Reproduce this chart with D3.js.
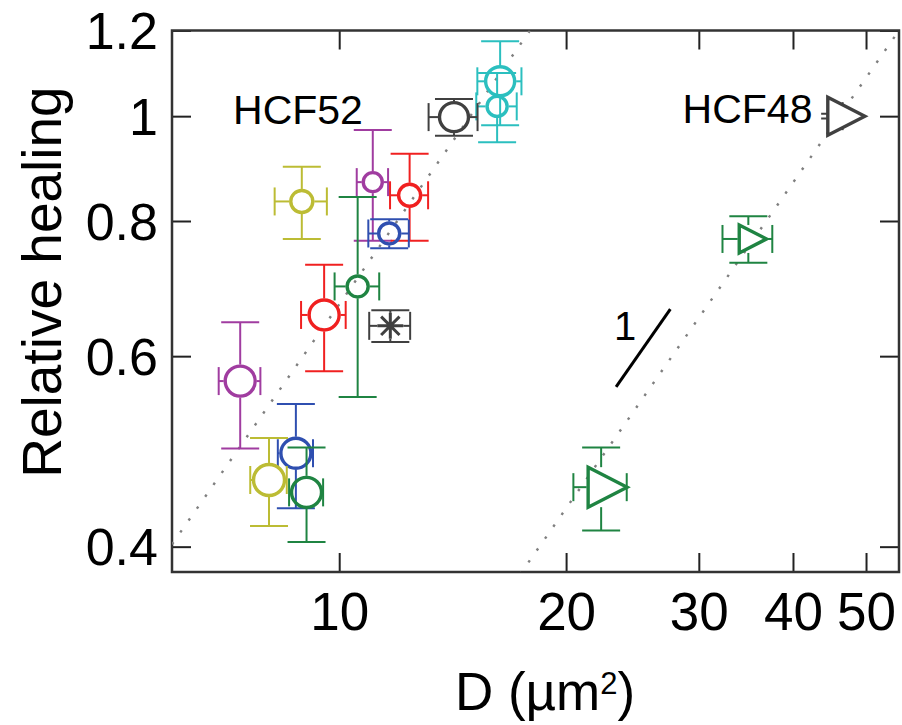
<!DOCTYPE html>
<html><head><meta charset="utf-8">
<script src="https://cdn.jsdelivr.net/npm/d3@7"></script>
<style>
body{margin:0;background:#fff}
svg{display:block}
text{font-family:"Liberation Sans",Arial,Helvetica,sans-serif}
</style>
</head><body>
<svg id="chart" width="902" height="725"></svg>
<script>
// ---------------- data ----------------
// HCF52 samples (open circles): D (µm²) and relative healing, with errors
const hcf52Colors = ["#2bbfbf","#2bbfbf","#404040","#a03ca0","#f02020","#bcbc34","#2f4fb0","#1f8442","#f02020","#a03ca0","#2f4fb0","#bcbc34","#1f8442"];
const hcf52D      = [16.35, 16.2, 14.2, 11.08, 12.4, 8.92, 11.65, 10.58, 9.55, 7.39, 8.76, 8.07, 9.05];
const hcf52DErr   = [1.1, 1.0, 1.06, 0.53, 0.72, 0.71, 0.72, 0.72, 0.65, 0.47, 0.47, 0.45, 0.47];
const hcf52Heal   = [1.077, 1.021, 0.998, 0.869, 0.845, 0.834, 0.779, 0.696, 0.655, 0.569, 0.488, 0.461, 0.449];
const hcf52HealErr= [0.096, 0.075, 0.039, 0.102, 0.078, 0.064, 0.024, 0.146, 0.074, 0.076, 0.054, 0.043, 0.045];
const hcf52Size   = [14.5, 10, 14.5, 9.5, 11, 11, 10.5, 10.5, 15, 15, 15, 15.5, 15];

// HCF52 reference sample (asterisk)
const refColor = ["#404040"];
const refD = [11.69], refDErr = [0.73];
const refHeal = [0.640], refHealErr = [0.0215];

// HCF48 samples (right-pointing triangles)
const hcf48Colors = ["#404040","#1f8442","#1f8442"];
const hcf48D      = [46.2, 34.9, 22.26];
const hcf48DErr   = [0.35, 2.65, 1.81];
const hcf48Heal   = [1.0, 0.770, 0.454];
const hcf48HealErr= [0.005, 0.038, 0.040];
const hcf48Size   = [19, 14, 20];

// guide lines: healing = coef * D (slope 1 in log-log)
const guideCoef = [0.067, 0.0217];
const slopeSegD = [23.3, 27.5];
const slopeSegHeal = [0.562, 0.6633];

const xTicks = [10, 20, 30, 40, 50];
const yTicks = [0.4, 0.6, 0.8, 1, 1.2];
const xDomain = [6, 55.3];
const yDomain = [0.379, 1.2];

const labels = [
  {text:"HCF52", D:7.23, h:0.983, size:41},
  {text:"HCF48", D:28.55, h:0.985, size:41},
  {text:"1", D:23.15, h:0.621, size:40}
];

// ---------------- layout ----------------
const svg = d3.select("#chart");
const L = 172, R = 899, T = 30.5, B = 572;
const x = d3.scaleLog().domain(xDomain).range([L, R]);
const y = d3.scaleLog().domain(yDomain).range([B, T]);

svg.append("clipPath").attr("id","clip").append("rect")
  .attr("x",L).attr("y",T).attr("width",R-L).attr("height",B-T);

// axes (inward ticks on all sides)
const tickLen = 19;
const gB = svg.append("g").attr("transform",`translate(0,${B})`)
  .call(d3.axisBottom(x).tickValues(xTicks).tickSize(-tickLen).tickPadding(20).tickFormat(d3.format("d")));
const gT = svg.append("g").attr("transform",`translate(0,${T})`)
  .call(d3.axisTop(x).tickValues(xTicks).tickSize(-tickLen).tickFormat(""));
const gL = svg.append("g").attr("transform",`translate(${L},0)`)
  .call(d3.axisLeft(y).tickValues(yTicks).tickSize(-tickLen).tickPadding(14).tickFormat(d=>String(d)));
const gR = svg.append("g").attr("transform",`translate(${R},0)`)
  .call(d3.axisRight(y).tickValues(yTicks).tickSize(-tickLen).tickFormat(""));
[gB,gT,gL,gR].forEach(g=>{
  g.select(".domain").remove();
  g.selectAll(".tick line").attr("stroke","#222").attr("stroke-width",2);
  g.selectAll(".tick text").attr("fill","#000").attr("font-family",'"Liberation Sans",Arial,sans-serif');
});
gB.selectAll(".tick text").attr("font-size",53);
gL.selectAll(".tick text").attr("font-size",52).attr("dy","0.35em");

// frame
svg.append("rect").attr("x",L).attr("y",T).attr("width",R-L).attr("height",B-T)
  .attr("fill","none").attr("stroke","#333").attr("stroke-width",2.5);

// axis titles
const xt = svg.append("text").attr("x",545).attr("y",710).attr("text-anchor","middle")
  .attr("font-size",53).attr("fill","#000");
xt.append("tspan").text("D (µm");
xt.append("tspan").attr("font-size",31).attr("dy",-16).text("2");
xt.append("tspan").attr("dy",16).text(")");
svg.append("text").attr("transform","translate(61,282) rotate(-90)").attr("text-anchor","middle")
  .attr("font-size",55).attr("fill","#000").text("Relative healing");

// guide dotted lines
const plot = svg.append("g").attr("clip-path","url(#clip)");
const line = d3.line().x(d=>x(d[0])).y(d=>y(d[1]));
guideCoef.forEach(c=>{
  plot.append("path").datum([[xDomain[0], c*xDomain[0]],[xDomain[1], c*xDomain[1]]])
    .attr("d",line).attr("fill","none").attr("stroke","#7f7f7f").attr("stroke-width",2.4)
    .attr("stroke-dasharray","2.5 12");
});

// slope indicator
svg.append("path").datum(slopeSegD.map((d,i)=>[d,slopeSegHeal[i]]))
  .attr("d",line).attr("stroke","#000").attr("stroke-width",3).attr("fill","none");

labels.forEach(l=>{
  svg.append("text").attr("x",x(l.D)).attr("y",y(l.h)).attr("font-size",l.size).attr("fill","#000").text(l.text);
});

// error bars with gap around the marker
const capH = 14, capW = 19;
function errBar(g, px, py, xl, xr, yt, yb, gl, gr, gt, gb, color){
  const s = g.append("g").attr("stroke",color).attr("stroke-width",2).attr("fill","none");
  const seg = (x1,y1,x2,y2)=>s.append("line").attr("x1",x1).attr("y1",y1).attr("x2",x2).attr("y2",y2);
  if (px-gl > xl) seg(xl,py,px-gl,py);
  if (px+gr < xr) seg(px+gr,py,xr,py);
  seg(xl,py-capH,xl,py+capH); seg(xr,py-capH,xr,py+capH);
  if (py-gt > yt) seg(px,yt,px,py-gt);
  if (py+gb < yb) seg(px,py+gb,px,yb);
  seg(px-capW,yt,px+capW,yt); seg(px-capW,yb,px+capW,yb);
}

const marks = svg.append("g");
// HCF52 circles
hcf52D.forEach((d,i)=>{
  const px = x(d), py = y(hcf52Heal[i]), r = hcf52Size[i], c = hcf52Colors[i], gp = r+1.5;
  errBar(marks, px, py, x(d-hcf52DErr[i]), x(d+hcf52DErr[i]), y(hcf52Heal[i]+hcf52HealErr[i]), y(hcf52Heal[i]-hcf52HealErr[i]), gp,gp,gp,gp, c);
  marks.append("circle").attr("cx",px).attr("cy",py).attr("r",r)
    .attr("fill","none").attr("stroke",c).attr("stroke-width",3.4);
});
// reference asterisk
refD.forEach((d,i)=>{
  const px = x(d), py = y(refHeal[i]), c = refColor[i], a = 13, b = 9.2;
  errBar(marks, px, py, x(d-refDErr[i]), x(d+refDErr[i]), y(refHeal[i]+refHealErr[i]), y(refHeal[i]-refHealErr[i]), a,a,a,a, c);
  marks.append("path").attr("transform",`translate(${px},${py})`)
    .attr("d",`M${-a},0H${a}M0,${-a}V${a}M${-b},${-b}L${b},${b}M${-b},${b}L${b},${-b}`)
    .attr("stroke",c).attr("stroke-width",3).attr("fill","none");
});
// HCF48 triangles (white-filled, drawn over their error bars)
hcf48D.forEach((d,i)=>{
  const px = x(d), py = y(hcf48Heal[i]), s = hcf48Size[i], c = hcf48Colors[i];
  errBar(marks, px, py, x(d-hcf48DErr[i]), x(d+hcf48DErr[i]), y(hcf48Heal[i]+hcf48HealErr[i]), y(hcf48Heal[i]-hcf48HealErr[i]),
    0.65*s+1.5, 1.3*s+1.5, s, s, c);
  marks.append("path").attr("transform",`translate(${px},${py})`)
    .attr("d",`M${-0.65*s},${-s}L${1.3*s},0L${-0.65*s},${s}Z`)
    .attr("stroke",c).attr("stroke-width",3.4).attr("fill","#fff").attr("stroke-linejoin","miter");
});
</script>
</body></html>
